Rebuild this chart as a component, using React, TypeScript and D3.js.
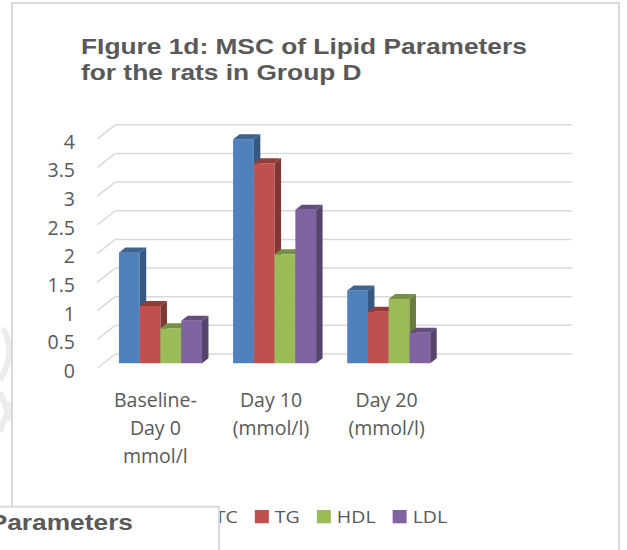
import * as d3 from "d3";

const titleLines = ["FIgure 1d: MSC of Lipid Parameters", "for the rats in Group D"];
const categories = ["Baseline- Day 0 mmol/l", "Day 10 (mmol/l)", "Day 20 (mmol/l)"];
const categoryLines = [["Baseline-", "Day 0", "mmol/l"], ["Day 10", "(mmol/l)"], ["Day 20", "(mmol/l)"]];
const seriesNames = ["TC", "TG", "HDL", "LDL"];
const tcValues = [1.93, 3.91, 1.27];
const tgValues = [1.0, 3.49, 0.9];
const hdlValues = [0.61, 1.9, 1.12];
const ldlValues = [0.74, 2.68, 0.53];
const yTicks = [0, 0.5, 1, 1.5, 2, 2.5, 3, 3.5, 4];
const colors = ["#4f81bd", "#c0504d", "#9bbb59", "#8064a2"];

const series = [tcValues, tgValues, hdlValues, ldlValues];

const TEXT = "#595959";
const GRID = "#d9d9d9";
const LABEL_FONT = "'Open Sans', 'Liberation Sans', sans-serif";
const TITLE_FONT = "'Liberation Sans', Arial, sans-serif";

// canvas measure so legend items can be laid out one after the other
function textWidth(text: string, font: string) {
  const ctx = document.createElement("canvas").getContext("2d");
  if (!ctx) return text.length * 9;
  ctx.font = font;
  return ctx.measureText(text).width;
}

export default function App() {
  const width = 627;
  const height = 550;

  // floor front edge runs along x; depth goes back/right
  const depth = { dx: 18, dy: -14 };
  const frontAt = 0.34;
  const thickness = 0.36;

  const x = d3.scaleBand<string>().domain([...categories, "(blank)"]).range([97.3, 553.8]);
  const xSub = d3.scaleBand<string>().domain(seriesNames).range([0, x.bandwidth()]).paddingOuter(0.75);
  const y = d3.scaleLinear().domain([0, 4]).range([368, 138.8]);

  const [x0, x1] = x.range();

  const legendSize = 17;
  const legendScale = 1.15;
  const legendItems = seriesNames.map((name) => 14 + 6 + textWidth(name, `${legendSize}px 'Open Sans'`) * legendScale);
  const legendTotal = d3.sum(legendItems) + 17 * (legendItems.length - 1);
  let legendX = 321 - legendTotal / 2;
  const legendPos = legendItems.map((w) => {
    const p = legendX;
    legendX += w + 17;
    return p;
  });

  const bw = xSub.bandwidth();
  const fdx = depth.dx * frontAt;
  const fdy = depth.dy * frontAt;
  const tdx = depth.dx * thickness;
  const tdy = depth.dy * thickness;

  return (
    <svg
      width={width}
      height={height}
      style={{ position: "absolute", left: 0, top: 0, background: "#fff" }}
    >
      <rect x={0} y={0} width={width} height={height} fill="#fff" />

      {/* faint watermark at the left edge */}
      <g stroke="#ececec" strokeWidth={6} fill="none">
        <path d="M 3 328 Q 17 352 0 380" />
        <path d="M 0 392 L 11 420" />
        <path d="M 11 402 L 0 432" />
      </g>

      {/* chart border */}
      <rect x={12} y={3} width={607} height={600} fill="none" stroke={GRID} strokeWidth={2} />

      {/* title */}
      {titleLines.map((line, i) => (
        <text
          key={i}
          transform={`translate(81,${54 + i * 25.5}) scale(1.17,1)`}
          fontFamily={TITLE_FONT}
          fontWeight="bold"
          fontSize={22.5}
          fill={TEXT}
        >
          {line}
        </text>
      ))}

      {/* back wall gridlines and side wall diagonals */}
      {yTicks.map((t) => (
        <g key={t} stroke={GRID} strokeWidth={1.5} fill="none">
          <line x1={x0 + depth.dx} x2={x1 + depth.dx} y1={y(t) + depth.dy} y2={y(t) + depth.dy} />
          <line x1={x0} x2={x0 + depth.dx} y1={y(t)} y2={y(t) + depth.dy} />
        </g>
      ))}

      {/* y tick labels */}
      {yTicks.map((t) => (
        <text
          key={t}
          x={75}
          y={y(t) + 10}
          textAnchor="end"
          fontFamily={LABEL_FONT}
          fontSize={19.5}
          fill={TEXT}
        >
          {String(t)}
        </text>
      ))}

      {/* bars */}
      {categories.map((cat, ci) => (
        <g key={cat}>
          {seriesNames.map((s, si) => {
            const v = series[si][ci];
            const bx = x(cat)! + xSub(s)! + fdx;
            const by = y(v) + fdy;
            const bb = y(0) + fdy;
            const c = d3.color(colors[si])!;
            const side = c.darker(1.1).toString();
            const top = c.darker(0.75).toString();
            return (
              <g key={s}>
                <rect x={bx} y={by} width={bw} height={bb - by} fill={colors[si]} />
                <polygon
                  points={`${bx},${by} ${bx + tdx},${by + tdy} ${bx + bw + tdx},${by + tdy} ${bx + bw},${by}`}
                  fill={top}
                />
                <polygon
                  points={`${bx + bw},${by} ${bx + bw + tdx},${by + tdy} ${bx + bw + tdx},${bb + tdy} ${bx + bw},${bb}`}
                  fill={side}
                />
              </g>
            );
          })}
        </g>
      ))}

      {/* category labels */}
      {categories.map((cat, ci) => (
        <text
          key={cat}
          textAnchor="middle"
          fontFamily={LABEL_FONT}
          fontSize={19.5}
          fill={TEXT}
        >
          {categoryLines[ci].map((line, li) => (
            <tspan key={li} x={x(cat)! + x.bandwidth() / 2 + 1 + ci * 1.5} y={406.7 + li * 28.3}>
              {line}
            </tspan>
          ))}
        </text>
      ))}

      {/* legend */}
      {seriesNames.map((s, i) => (
        <g key={s}>
          <rect x={legendPos[i]} y={510} width={14} height={13.3} fill={colors[i]} />
          <text
            transform={`translate(${legendPos[i] + 20},522.7) scale(${legendScale},1)`}
            fontFamily={LABEL_FONT}
            fontSize={legendSize}
            fill={TEXT}
          >
            {s}
          </text>
        </g>
      ))}

      {/* overlapping box from the neighbouring figure */}
      <rect x={-10} y={506.7} width={229} height={80} fill="#fff" stroke={GRID} strokeWidth={2} />
      <text
        transform="translate(133,530) scale(1.17,1)"
        textAnchor="end"
        fontFamily={TITLE_FONT}
        fontWeight="bold"
        fontSize={22.5}
        fill={TEXT}
      >
        Parameters
      </text>
    </svg>
  );
}
